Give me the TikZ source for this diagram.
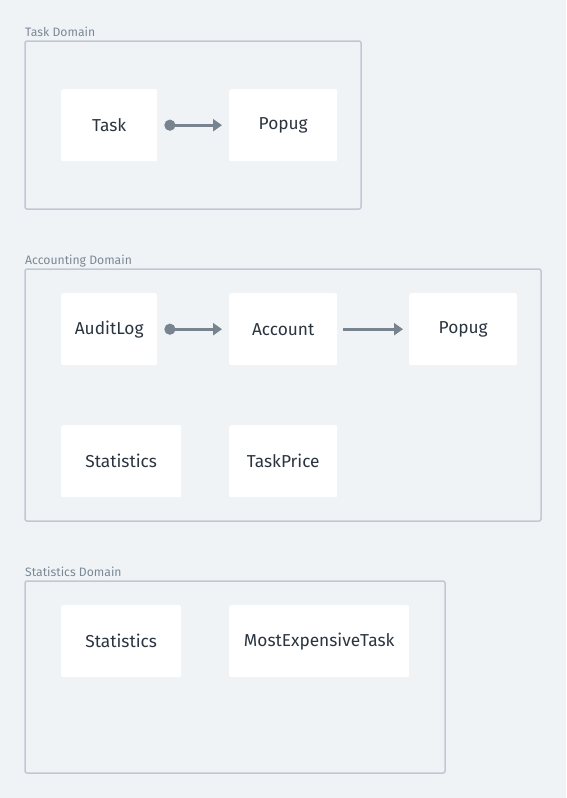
\documentclass[tikz,border=0pt]{standalone}
\usepackage{fontspec}
\setmainfont{Fira Sans}
\usetikzlibrary{arrows.meta, positioning}
\definecolor{bgcol}{HTML}{F0F3F6}
\definecolor{framecol}{HTML}{BFC9D3}
\definecolor{labelcol}{HTML}{7A8896}
\definecolor{textcol}{HTML}{2B3540}
\definecolor{linkcol}{HTML}{77838F}
\tikzset{
    domainframe/.style={draw=framecol, line width=1.5pt, rounded corners=2pt},
    domainlabel/.style={anchor=base west, inner sep=0pt, text=labelcol, font=\fontsize{12.2}{14}\selectfont},
    entity/.style={fill=white, rounded corners=2pt, anchor=north west, inner sep=0pt,
        minimum height=72pt, text=textcol, font=\fontsize{17.3}{20}\selectfont},
    link/.style={draw=linkcol, line width=3pt, -{Triangle[length=9pt, width=12pt]}},
    reflink/.style={link, {Circle[length=11pt, width=11pt]}-{Triangle[length=9pt, width=12pt]}},
}
\begin{document}
\begin{tikzpicture}[x=1pt, y=-1pt]
    \fill[bgcol] (0,0) rectangle (566,798);
    \useasboundingbox (0,0) rectangle (566,798);
    % Task Domain
    \draw[domainframe] (25,41) rectangle (361,209);
    \node[domainlabel] (tasklbl) at (25,36.5) {Task Domain};
    \node[entity, minimum width=96pt] (task) at (61,89) {Task};
    \node[entity, minimum width=108pt] (taskpopug) at (229,89) {Popug};
    \draw[reflink, shorten <=7pt, shorten >=7pt] (task) -- (taskpopug);
    % Accounting Domain
    \draw[domainframe] (25,269) rectangle (541,521);
    \node[domainlabel] (acclbl) at (25,264.5) {Accounting Domain};
    \node[entity, minimum width=96pt] (auditlog) at (61,293) {AuditLog};
    \node[entity, minimum width=108pt] (account) at (229,293) {Account};
    \node[entity, minimum width=108pt] (accpopug) at (409,293) {Popug};
    \node[entity, minimum width=120pt] (accstats) at (61,425) {Statistics};
    \node[entity, minimum width=108pt] (taskprice) at (229,425) {TaskPrice};
    \draw[reflink, shorten <=7pt, shorten >=7pt] (auditlog) -- (account);
    \draw[link, shorten <=6pt, shorten >=6pt] (account) -- (accpopug);
    % Statistics Domain
    \draw[domainframe] (25,581) rectangle (445,773);
    \node[domainlabel] (statlbl) at (25,576.5) {Statistics Domain};
    \node[entity, minimum width=120pt] (stats) at (61,605) {Statistics};
    \node[entity, minimum width=180pt] (expensive) at (229,605) {MostExpensiveTask};
\end{tikzpicture}
\end{document}
